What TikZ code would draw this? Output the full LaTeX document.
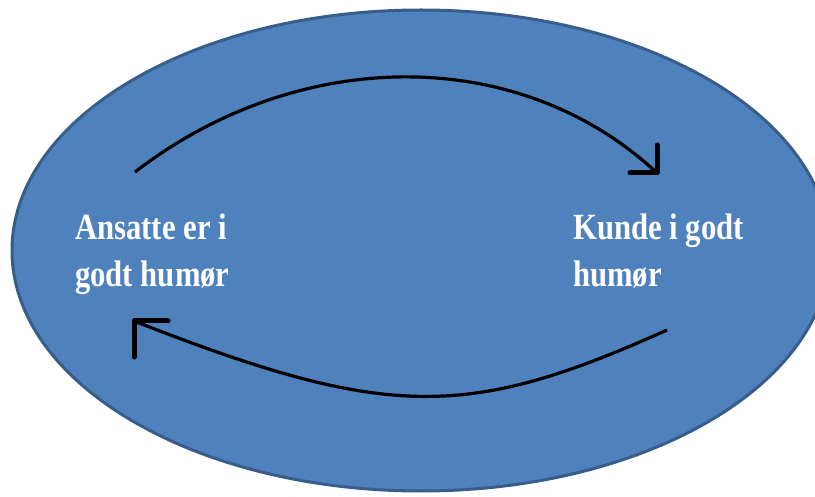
\documentclass[tikz,border=0pt]{standalone}
\usepackage{fontspec}
\setmainfont{Liberation Serif}
\newfontfamily\labelfont[FakeStretch=0.83]{Liberation Serif}
\usetikzlibrary{shapes.geometric}
\definecolor{ovalfill}{HTML}{4F81BD}
\definecolor{ovaledge}{HTML}{385D8A}
\tikzset{
  oval/.style={ellipse, fill=ovalfill, draw=ovaledge, line width=3pt,
    minimum width=818pt, minimum height=481pt, inner sep=0pt},
  label text/.style={text=white, align=left, inner sep=0pt,
    font=\labelfont\bfseries\fontsize{37}{47}\selectfont},
  flow/.style={draw=black, line width=3.2pt},
  barb/.style={draw=black, line width=5pt, line cap=round, line join=round}
}
\begin{document}
\begin{tikzpicture}[x=1pt, y=-1pt]
  \useasboundingbox (0,0) rectangle (815,497);
  \clip (0,0) rectangle (815,497);
  % background oval
  \node[oval] (bg) at (421,250.5) {};
  % the two states (base anchor sits on the last line)
  \node[label text, anchor=base west] (staff) at (75,287) {Ansatte er i\\godt humør};
  \node[label text, anchor=base west] (customer) at (573,287) {Kunde i godt\\humør};
  % curve ends and arrow tips
  \coordinate (s1) at (135,172);
  \coordinate (t1) at (657,173);
  \coordinate (s2) at (667,330);
  \coordinate (t2) at (134,321);
  % upper arc: staff -> customer
  \draw[flow] (s1) .. controls (300,45) and (520,45) .. (t1);
  \draw[barb] ([yshift=28pt]t1) -- (t1) -- ([xshift=-27pt]t1);
  % lower arc: customer -> staff
  \draw[flow] (s2) .. controls (467,420) and (387,420) .. (t2);
  \draw[barb] ([xshift=34pt]t2) -- (t2) -- ([yshift=-36pt]t2);
\end{tikzpicture}
\end{document}
